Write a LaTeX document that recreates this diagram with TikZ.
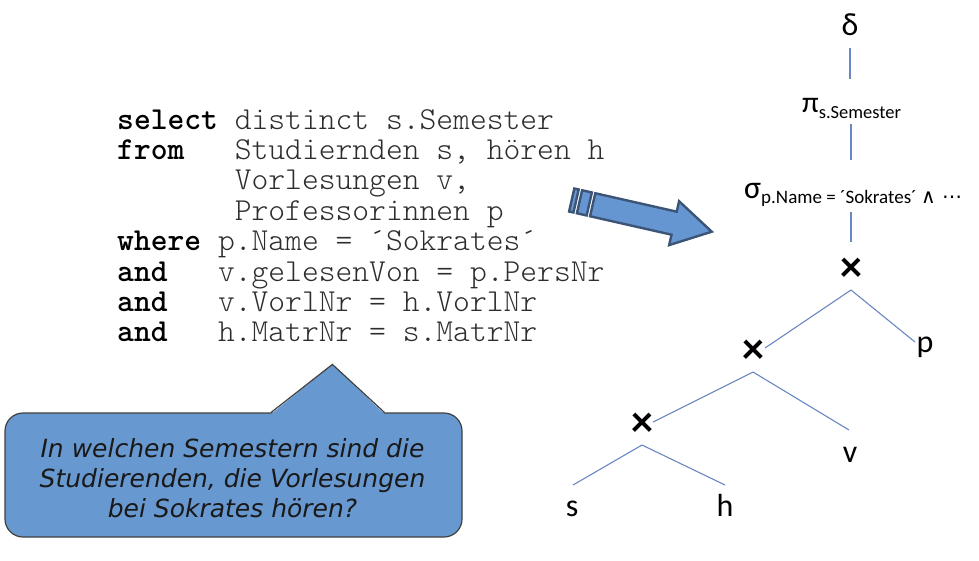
\documentclass[tikz,border=0pt]{standalone}
\usepackage{fontspec}
\newfontfamily\codefont{Latin Modern Mono Light}
\newfontfamily\calfont{Carlito}
\newfontfamily\dvfont{DejaVu Sans}
\usetikzlibrary{calc}
\definecolor{treeblue}{RGB}{105,135,195}
\definecolor{bubblefill}{RGB}{104,152,208}
\definecolor{bubbleedge}{RGB}{64,64,64}
\definecolor{arrowfill}{RGB}{102,150,210}
\definecolor{arrowedge}{RGB}{60,84,118}
\definecolor{codegray}{RGB}{45,45,45}
\tikzset{
  treeline/.style={draw=treeblue, line width=1.1pt},
  codekw/.style={anchor=base west, inner sep=0pt, font=\codefont\bfseries\fontsize{32}{30}\selectfont},
  codetx/.style={anchor=base west, inner sep=0pt, text=codegray, font=\codefont\fontsize{32}{30}\selectfont},
  treelbl/.style={anchor=base, inner sep=0pt, font=\calfont\fontsize{32}{32}\selectfont},
  oplbl/.style={anchor=base west, inner sep=0pt},
  crossop/.style={inner sep=0pt, font=\calfont\bfseries\fontsize{44}{44}\selectfont},
  bubble/.style={draw=bubbleedge, fill=bubblefill, line width=1.2pt, rounded corners=18pt,
    minimum width=457pt, minimum height=124pt},
  bubbletext/.style={align=center, text=black!90, inner sep=0pt,
    font=\dvfont\itshape\fontsize{25}{30}\selectfont},
  arrowpart/.style={fill=arrowfill, draw=arrowedge, line width=2.4pt, line join=miter},
}
\begin{document}
\begin{tikzpicture}[x=1pt,y=-1pt]
\useasboundingbox (0,0) rectangle (979,560);

% SQL code
\node[codekw] (k0) at (117,129) {select};
\node[codetx] (t0) at (234.6,129) {distinct s.Semester};
\node[codekw] (k1) at (117,159.4) {from};
\node[codetx] (t1) at (234.6,159.4) {Studiernden s, hören h};
\node[codetx] (t2) at (234.6,189.8) {Vorlesungen v,};
\node[codetx] (t3) at (234.6,220.2) {Professorinnen p};
\node[codekw] (k4) at (117,250.6) {where};
\node[codetx] (t4) at (217.8,250.6) {p.Name = ´Sokrates´};
\node[codekw] (k5) at (117,281) {and};
\node[codetx] (t5) at (217.8,281) {v.gelesenVon = p.PersNr};
\node[codekw] (k6) at (117,311.4) {and};
\node[codetx] (t6) at (217.8,311.4) {v.VorlNr = h.VorlNr};
\node[codekw] (k7) at (117,341.8) {and};
\node[codetx] (t7) at (217.8,341.8) {h.MatrNr = s.MatrNr};

% callout
\node[bubble] (q) at (233.5,475) {};
\fill[bubblefill] ($(q.north west)+(266.7,1.6)$) -- ($(q.north west)+(328,-48)$) -- ($(q.north west)+(380,1.6)$) -- cycle;
\draw[bubbleedge, line width=1.2pt, line join=miter] ($(q.north west)+(266.7,0)$) -- ($(q.north west)+(328,-48)$) -- ($(q.north west)+(380,0)$);
\node[bubbletext] (qt) at ($(q.center)+(-1,3)$) {In welchen Semestern sind die\\Studierenden, die Vorlesungen\\bei Sokrates hören?};

% striped block arrow
\begin{scope}[shift={(571.7,200)}, rotate=-12.75]
  \path[arrowpart] (0,-11.8) rectangle (4.5,11.8);
  \path[arrowpart] (8,-11.8) rectangle (18,11.8);
  \path[arrowpart] (21.5,-11.8) -- (105,-11.8) -- (105,-22.5) -- (143.6,0) -- (105,22.5) -- (105,11.8) -- (21.5,11.8) -- cycle;
\end{scope}

% operator tree
\node[treelbl] (d) at (850,35) {δ};
\node[oplbl] (pi) at (802,112) {{\calfont\fontsize{30}{30}\selectfont π}\raisebox{-6pt}{\calfont\fontsize{18.5}{18}\selectfont s.Semester}};
\node[oplbl] (sig) at (744,198.5) {{\calfont\fontsize{32}{32}\selectfont σ}\raisebox{-5pt}{\calfont\fontsize{19}{19}\selectfont p.Name = ´Sokrates´ {\dvfont\fontsize{20}{20}\selectfont ∧ ⋯}}};
\node[crossop] (x1) at (851,270) {×};
\node[crossop] (x2) at (753,352) {×};
\node[crossop] (x3) at (642,425) {×};
\node[treelbl] (p) at (925,352) {p};
\node[treelbl] (v) at (850,462) {v};
\node[treelbl] (s) at (572,516.7) {s};
\node[treelbl] (h) at (725,516.7) {h};

\draw[treeline] ($(d.base)+(0,13)$) -- ($(pi.base west)+(48,-33)$);
\draw[treeline] ($(pi.base west)+(49,12)$) -- ($(sig.base west)+(107,-38.5)$);
\draw[treeline] ($(sig.base west)+(107,13.5)$) -- ($(x1)+(0,-28)$);
\draw[treeline] ($(x1)+(0,20)$) -- ($(x2)+(12,-4)$);
\draw[treeline] ($(x1)+(0,20)$) -- ($(p.base)+(-10,-10)$);
\draw[treeline] ($(x2)+(0,20)$) -- ($(x3)+(11,-3)$);
\draw[treeline] ($(x2)+(0,20)$) -- ($(v.base)+(-1,-32)$);
\draw[treeline] ($(x3)+(0,20)$) -- ($(s.base)+(1,-31.7)$);
\draw[treeline] ($(x3)+(0,20)$) -- ($(h.base)+(0,-31.7)$);
\end{tikzpicture}
\end{document}
